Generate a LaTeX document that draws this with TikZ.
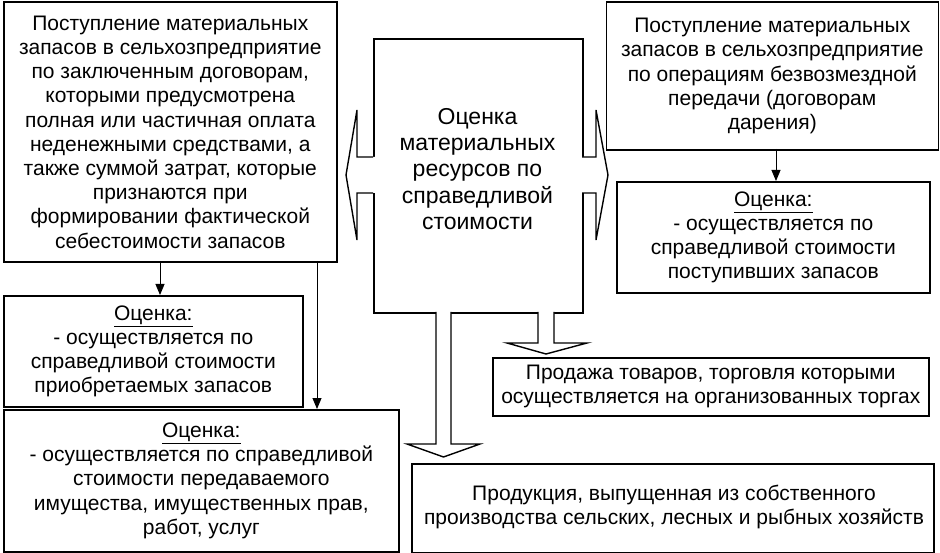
\documentclass[tikz,border=0pt]{standalone}
\usepackage{fontspec}
\setmainfont{Liberation Sans}
\usetikzlibrary{arrows.meta}
\newcommand\ocul[1]{\underline{#1\rule[-2.6pt]{0pt}{0pt}}}
\begin{document}
\begin{tikzpicture}[x=1pt,y=-1pt,
  box/.style={draw, line width=1.6pt, rectangle, anchor=north west, align=center,
    inner sep=0pt, font=\fontsize{21}{24.2}\selectfont},
  boxtext/.style={align=center, inner sep=0pt, font=\fontsize{21}{24.2}\selectfont},
  centertext/.style={boxtext, font=\fontsize{23}{26.3}\selectfont},
  thinarrow/.style={line width=0.9pt, -{Triangle[width=9pt,length=11pt]}},
  blockarrow/.style={line width=1.4pt, line join=miter}]
\useasboundingbox (0,0) rectangle (940,553);

\node[box, minimum width=333, minimum height=259.5] (b1) at (3,1.5)
 {Поступление материальных\\запасов в сельхозпредприятие\\по заключенным договорам,\\которыми предусмотрена\\полная или частичная оплата\\неденежными средствами, а\\также суммой затрат, которые\\признаются при\\формировании фактической\\себестоимости запасов};

\node[box, minimum width=209, minimum height=274] (c) at (373,38) {};
\node[centertext] (ct) at (477.5,169)
 {Оценка\\материальных\\ресурсов по\\справедливой\\стоимости};

\node[box, minimum width=332, minimum height=147.5] (b3) at (605.5,1.5)
 {Поступление материальных\\запасов в сельхозпредприятие\\по операциям безвозмездной\\передачи (договорам\\дарения)};

\node[box, minimum width=313, minimum height=111] (b4) at (616,181)
 {\ocul{Оценка:}\\- осуществляется по\\справедливой стоимости\\поступивших запасов};

\node[box, minimum width=299, minimum height=111] (b5) at (3,295)
 {\ocul{Оценка:}\\- осуществляется по\\справедливой стоимости\\приобретаемых запасов};

\node[box, minimum width=395, minimum height=142] (b6) at (3,409)
 {\ocul{Оценка:}\\- осуществляется по справедливой\\стоимости передаваемого\\имущества, имущественных прав,\\работ, услуг};

\node[box, minimum width=436, minimum height=58] (b7) at (492,357)
 {Продажа товаров, торговля которыми\\осуществляется на организованных торгах};

\node[box, minimum width=522, minimum height=88.5] (b8) at (411,463) {};
\node[boxtext] (b8t) at (674,507)
 {Продукция, выпущенная из собственного\\производства сельских, лесных и рыбных хозяйств};

% thin arrows
\coordinate (t1) at (160,261);
\coordinate (t2) at (317,261);
\coordinate (t3) at (776,149);
\draw[thinarrow] (t1) -- (t1 |- b5.north);
\draw[thinarrow] (t2) -- (t2 |- b6.north);
\draw[thinarrow] (t3) -- (t3 |- b4.north);

% block arrows
\fill[white] (375,157) -- (357,157) -- (357,110) -- (346,175) -- (357,240) -- (357,193) -- (375,193) -- cycle;
\draw[blockarrow] (373,157) -- (357,157) -- (357,110) -- (346,175) -- (357,240) -- (357,193) -- (373,193);

\fill[white] (580,157) -- (596,157) -- (596,110) -- (608,175) -- (596,240) -- (596,193) -- (580,193) -- cycle;
\draw[blockarrow] (582,157) -- (596,157) -- (596,110) -- (608,175) -- (596,240) -- (596,193) -- (582,193);

\fill[white] (436,310) -- (436,444) -- (407,444) -- (443.5,457) -- (480,444) -- (451,444) -- (451,310) -- cycle;
\draw[blockarrow] (436,312) -- (436,444) -- (407,444) -- (443.5,457) -- (480,444) -- (451,444) -- (451,312);

\fill[white] (538,310) -- (538,343) -- (507,343) -- (546,354) -- (587,343) -- (554,343) -- (554,310) -- cycle;
\draw[blockarrow] (538,312) -- (538,343) -- (507,343) -- (546,354) -- (587,343) -- (554,343) -- (554,312);
\end{tikzpicture}
\end{document}
